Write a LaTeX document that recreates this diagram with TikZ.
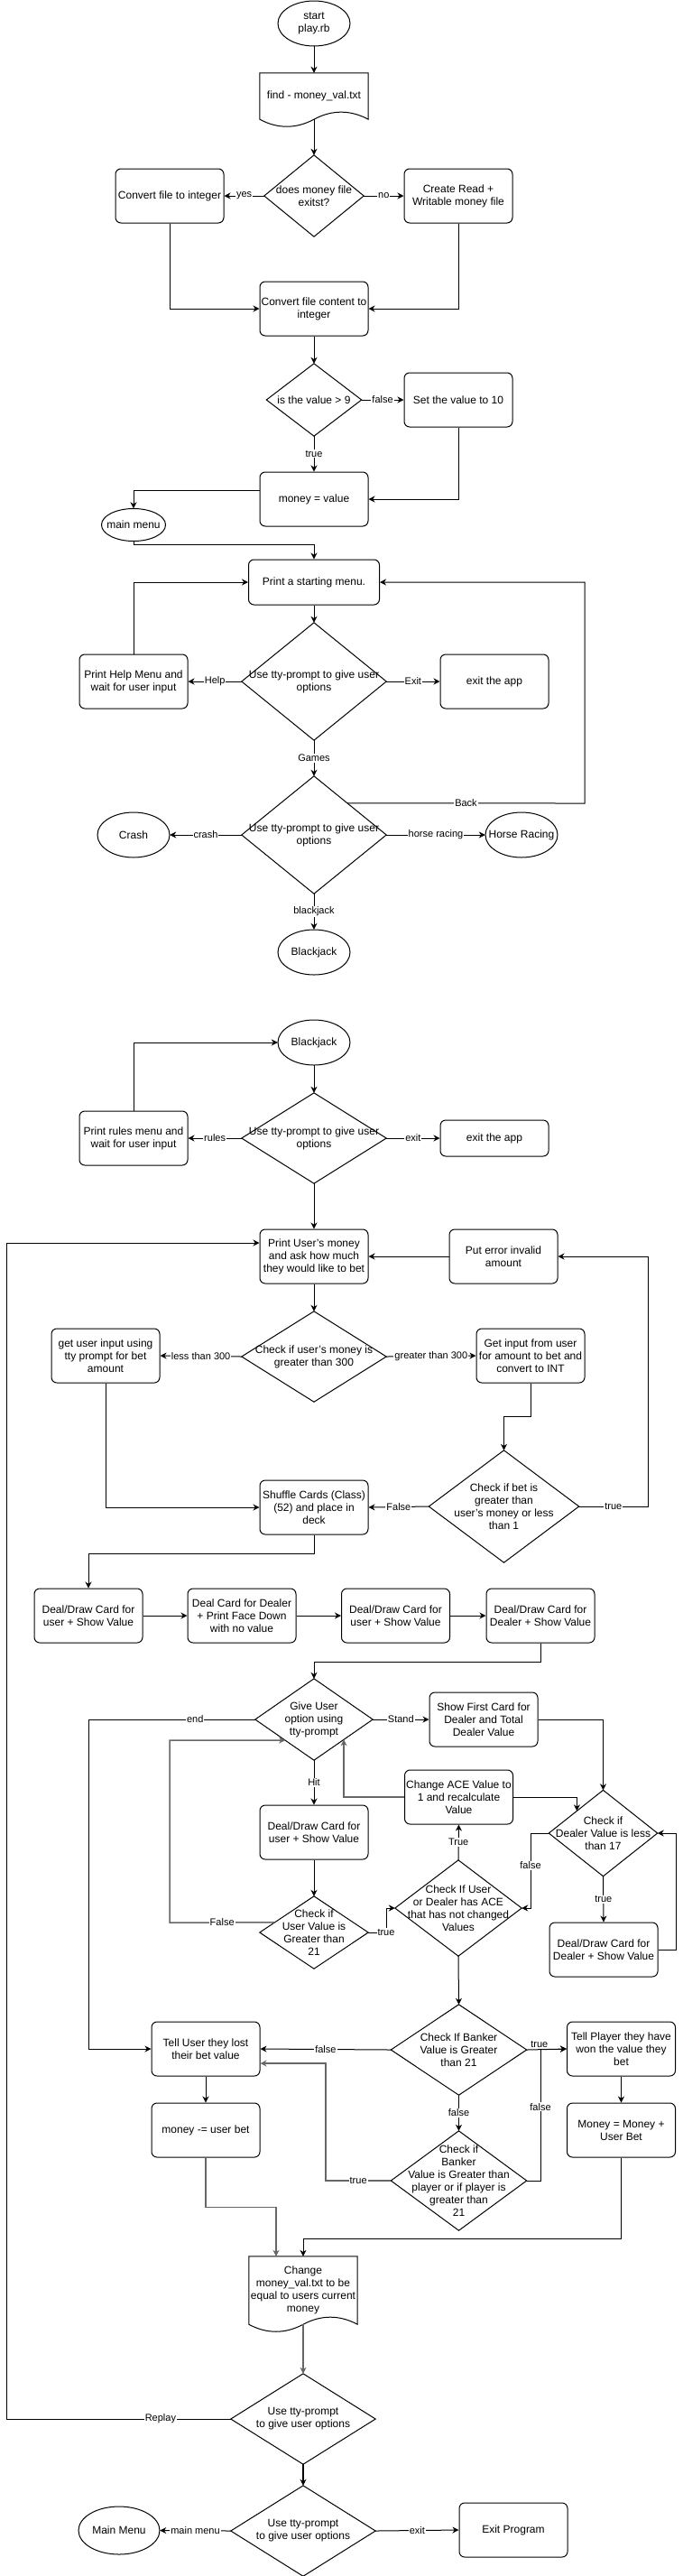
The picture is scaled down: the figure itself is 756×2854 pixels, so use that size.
\documentclass[tikz,border=0pt]{standalone}
\usepackage{fontspec}
\setmainfont{Liberation Sans}
\usetikzlibrary{arrows.meta,calc}
\newcommand\fs{\fontsize{12}{14}\selectfont}
\newcommand\fl{\fontsize{11}{13}\selectfont}
\definecolor{lnk}{HTML}{666666}
\newcommand\diaout[1]{\draw[shp] (#1.north) -- (#1.east) -- (#1.south) -- (#1.west) -- cycle;}
\newcommand\ellout[3]{\draw[shp] (#1.center) ellipse [x radius=#2, y radius=#3];}
\newcommand\docout[1]{\draw[shp] (#1.north west) -- (#1.north east) -- (#1.south east)
  .. controls ($(#1.south east)+(-20,-10.7)$) and ($(#1.south)+(20,-10.7)$) .. (#1.south)
  .. controls ($(#1.south)+(-20,10.7)$) and ($(#1.south west)+(20,10.7)$) .. (#1.south west) -- cycle;}
\begin{document}
\begin{tikzpicture}[x=1pt,y=-1pt,
  shp/.style={draw=black,line width=1pt},
  box/.style={draw,line width=1pt,rounded corners=6pt,minimum width=120pt,minimum height=60pt,inner sep=0pt,align=center,font=\fs},
  txt/.style 2 args={minimum width=#1pt,minimum height=#2pt,inner sep=0pt,align=center,font=\fs},
  ar/.style={line width=1pt,-{Stealth[length=7pt,width=7pt,inset=2.2pt]}},
  gl/.style={ar,draw=lnk,line width=1.5pt},
  lbl/.style={fill=white,inner sep=1pt,font=\fl}]
\useasboundingbox (0,0) rectangle (756,2854);

% ---------- part 1 ----------
\node[txt={80}{50}] (start) at (348,26) {start\\play.rb};
\ellout{start}{40}{25}
\node[txt={120}{51}] (find) at (348,106.5) {find - money\_val.txt};
\docout{find}
\node[txt={110}{90}] (d1) at (348,217) {does money file\\exitst?};
\diaout{d1}
\node[box] (conv1) at (188,217) {Convert file to integer};
\node[box] (create) at (508,217) {Create Read +\\Writable money file};
\node[box] (conv2) at (348,342) {Convert file content to\\integer};
\node[txt={105}{80}] (d2) at (348,443) {is the value > 9};
\diaout{d2}
\node[box] (setv) at (508,443) {Set the value to 10};
\node[box] (money) at (348,553) {money = value};
\node[txt={71}{36}] (mm) at (148,581.5) {main menu};
\ellout{mm}{35.5}{18}
\node[box,minimum width=145pt,minimum height=50pt] (print) at (348,645) {Print a starting menu.};
\node[txt={160}{130}] (d3) at (348,755) {Use tty-prompt to give user\\options};
\diaout{d3}
\node[box] (help) at (148,755) {Print Help Menu and\\wait for user input};
\node[box] (exit1) at (548,755) {exit the app};
\node[txt={160}{130}] (d4) at (348,925) {Use tty-prompt to give user\\options};
\diaout{d4}
\node[txt={80}{50}] (crash) at (148,925) {Crash};
\ellout{crash}{40}{25}
\node[txt={80}{50}] (horse) at (578,925) {Horse Racing};
\ellout{horse}{40}{25}
\node[txt={80}{50}] (bj1) at (348,1055) {Blackjack};
\ellout{bj1}{40}{25}

\draw[ar] (start.south) -- (find.north);
\draw[ar] (find.south) -- (d1.north);
\draw[ar] (d1.west) -- node[lbl]{yes} (conv1.east);
\draw[ar] (d1.east) -- node[lbl]{no} (create.west);
\draw[ar] (conv1.south) |- (conv2.west);
\draw[ar] (create.south) |- (conv2.east);
\draw[ar] (conv2.south) -- (d2.north);
\draw[ar] (d2.east) -- node[lbl]{false} (setv.west);
\draw[ar] (d2.south) -- node[lbl]{true} (money.north);
\draw[ar] (setv.south) |- (money.east);
\draw[ar] ($(money.west)+(0,-10)$) -| (mm.north);
\draw[ar] (mm.south) -- ++(0,4) -| (print.north);
\draw[ar] (print.south) -- (d3.north);
\draw[ar] (d3.west) -- node[lbl]{Help} (help.east);
\draw[ar] (d3.east) -- node[lbl]{Exit} (exit1.west);
\draw[ar] (help.north) |- (print.west);
\draw[ar] (d3.south) -- node[lbl]{Games} (d4.north);
\coordinate (d4b) at ($(d4.north)!0.4615!(d4.east)$);
\draw[ar] (d4b) -- node[lbl]{Back} (648,890) |- (print.east);
\draw[ar] (d4.west) -- node[lbl]{crash} (crash.east);
\draw[ar] (d4.east) -- node[lbl]{horse racing} (horse.west);
\draw[ar] (d4.south) -- node[lbl]{blackjack} (bj1.north);

% ---------- part 2 ----------
\node[txt={80}{50}] (bj2) at (348,1155) {Blackjack};
\ellout{bj2}{40}{25}
\node[txt={160}{100}] (d5) at (348,1261) {Use tty-prompt to give user\\options};
\diaout{d5}
\node[box] (rules) at (148,1261) {Print rules menu and\\wait for user input};
\node[box,minimum height=40pt] (exit2) at (548,1261) {exit the app};
\node[box] (pum) at (348,1392) {Print User's money\\and ask how much\\they would like to bet};
\node[box] (err) at (558,1392) {Put error invalid\\amount};
\node[txt={160}{100}] (d6) at (348,1503) {Check if user's money is\\greater than 300};
\diaout{d6}
\node[box] (gui) at (117,1502) {get user input using\\tty prompt for bet\\amount};
\node[box] (gin) at (588,1502) {Get input from user\\for amount to bet and\\convert to INT};
\node[txt={166}{124}] (d7) at (558.5,1669) {Check if bet is\\greater than\\user's money or less\\than 1};
\diaout{d7}
\node[box] (shuffle) at (348,1670) {Shuffle Cards (Class)\\(52) and place in\\deck};

\draw[ar] (bj2.south) -- (d5.north);
\draw[ar] (d5.west) -- node[lbl]{rules} (rules.east);
\draw[ar] (d5.east) -- node[lbl]{exit} (exit2.west);
\draw[ar] (rules.north) |- (bj2.west);
\draw[ar] (d5.south) -- (pum.north);
\draw[ar] (err.west) -- (pum.east);
\draw[ar] (pum.south) -- (d6.north);
\draw[ar] (d6.west) -- node[lbl]{less than 300} (gui.east);
\draw[ar] (d6.east) -- node[lbl]{greater than 300} (gin.west);
\draw[ar] (gin.south) -- ++(0,37) -| (d7.north);
\draw[ar] (d7.west) -- node[lbl]{False} (shuffle.east);
\draw[ar] (d7.east) -- node[lbl]{true} (718,1669) |- (err.east);
\draw[ar] (gui.south) |- (shuffle.west);

% ---------- part 3 ----------
\node[box] (deal1) at (98,1790) {Deal/Draw Card for\\user + Show Value};
\node[box] (deal2) at (268,1790) {Deal Card for Dealer\\+ Print Face Down\\with no value};
\node[box] (deal3) at (438.5,1790) {Deal/Draw Card for\\user + Show Value};
\node[box] (deal4) at (599,1790) {Deal/Draw Card for\\Dealer + Show Value};
\node[txt={130}{90}] (d8) at (348,1905) {Give User\\option using\\tty-prompt};
\diaout{d8}
\node[box] (showfirst) at (536,1905) {Show First Card for\\Dealer and Total\\Dealer Value};
\node[txt={120}{95}] (d9) at (668.5,2031) {Check if\\Dealer Value is less\\than 17};
\diaout{d9}
\node[box] (deal5) at (669,2160) {Deal/Draw Card for\\Dealer + Show Value};
\node[box] (ace) at (508.5,1991) {Change ACE Value to\\1 and recalculate\\Value};
\node[txt={140}{106}] (d10) at (508,2114) {Check If User\\or Dealer has ACE\\that has not changed\\Values};
\diaout{d10}
\node[box] (deal6) at (348,2030) {Deal/Draw Card for\\user + Show Value};
\node[txt={120}{80}] (d11) at (348,2141) {Check if\\User Value is\\Greater than\\21};
\diaout{d11}

\draw[ar] (shuffle.south) -- ++(0,21) -| (deal1.north);
\draw[ar] (deal1.east) -- (deal2.west);
\draw[ar] (deal2.east) -- (deal3.west);
\draw[ar] (deal3.east) -- (deal4.west);
\draw[ar] (deal4.south) -- ++(0,21) -| (d8.north);
\draw[ar] (d8.east) -- node[lbl]{Stand} (showfirst.west);
\draw[ar] (showfirst.east) -| (d9.north);
\draw[ar] (d9.south) -- node[lbl]{true} (deal5.north);
\draw[ar] (deal5.east) -- ++(20,0) |- (d9.east);
\draw[ar] (d9.west) -- (588,2031) -- node[lbl,pos=0.43]{false} (588,2114) -- (d10.east);
\draw[ar] (d10.north) -- node[lbl]{True} (ace.south);
\coordinate (d8se) at ($(d8.south)!0.5077!(d8.east)$);
\draw[gl] (ace.west) -| (d8se);
\coordinate (d9nw) at ($(d9.north)!0.4833!(d9.west)$);
\draw[ar] (ace.east) -| (d9nw);
\draw[ar] (d8.south) -- node[lbl]{Hit} (deal6.north);
\draw[ar] (deal6.south) -- (d11.north);
\coordinate (d11nw) at ($(d11.west)!0.275!(d11.north)$);
\coordinate (d8sw) at ($(d8.west)!0.511!(d8.south)$);
\draw[gl] (d11nw) -- node[lbl]{False} (188,2130) |- (d8sw);
\draw[ar] (d11.east) -- (428,2141) node[lbl]{true} |- (d10.west);

% ---------- part 4 ----------
\node[txt={150}{100}] (banker) at (508.5,2271) {Check If Banker\\Value is Greater\\than 21};
\diaout{banker}
\node[box] (telllost) at (228,2270) {Tell User they lost\\their bet value};
\node[box] (tellwon) at (688.5,2270) {Tell Player they have\\won the value they\\bet};
\node[box] (minus) at (228,2360) {money -= user bet};
\node[box] (plus) at (688.5,2360) {Money = Money +\\User Bet};
\node[txt={150}{110}] (d14) at (508.5,2416) {Check if\\Banker\\Value is Greater than\\player or if player is\\greater than\\21};
\diaout{d14}
\node[txt={120}{75}] (change) at (336,2537.5) {Change\\money\_val.txt to be\\equal to users current\\money};
\docout{change}
\node[txt={160}{100}] (d12) at (336,2680) {Use tty-prompt\\to give user options};
\diaout{d12}
\node[txt={160}{100}] (d13) at (336,2804) {Use tty-prompt\\to give user options};
\diaout{d13}
\node[txt={90}{53}] (mm2) at (132,2803.5) {Main Menu};
\ellout{mm2}{45}{26.5}
\node[box] (exitprog) at (569,2803) {Exit Program};

\draw[ar] (d8.west) -- node[lbl,pos=0.36]{end} (98,1905) |- (telllost.west);
\draw[ar] (d10.south) -- (banker.north);
\draw[ar] (banker.west) -- node[lbl]{false} (telllost.east);
\draw[ar] (banker.east) -- node[font=\fl,pos=0.32,above=1pt,inner sep=1pt]{true} (tellwon.west);
\draw[ar] (banker.south) -- node[lbl]{false} (d14.north);
\draw[ar] (d14.east) -- (599,2416) -- node[lbl,pos=0.56]{false} (599,2270) -- (tellwon.west);
\draw[gl] (d14.west) -- node[lbl]{true} (361,2416) |- ($(telllost.east)+(0,16)$);
\draw[ar] (telllost.south) -- (minus.north);
\draw[ar] (tellwon.south) -- (plus.north);
\draw[gl] (minus.south) -- ++(0,55) -| ($(change.north)+(-30,0)$);
\draw[ar] (plus.south) -- ++(0,90) -| (change.north);
\draw[gl] (change.south) -- (d12.north);
\draw[ar] (d12.west) -- node[lbl,pos=0.313]{Replay} (7,2680) |- ($(pum.west)+(0,-15)$);
\draw[ar,line width=1.5pt] (d12.south) -- (d13.north);
\draw[ar] (d13.west) -- node[lbl]{main menu} (mm2.east);
\draw[ar] (d13.east) -- node[lbl]{exit} (exitprog.west);
\end{tikzpicture}
\end{document}
